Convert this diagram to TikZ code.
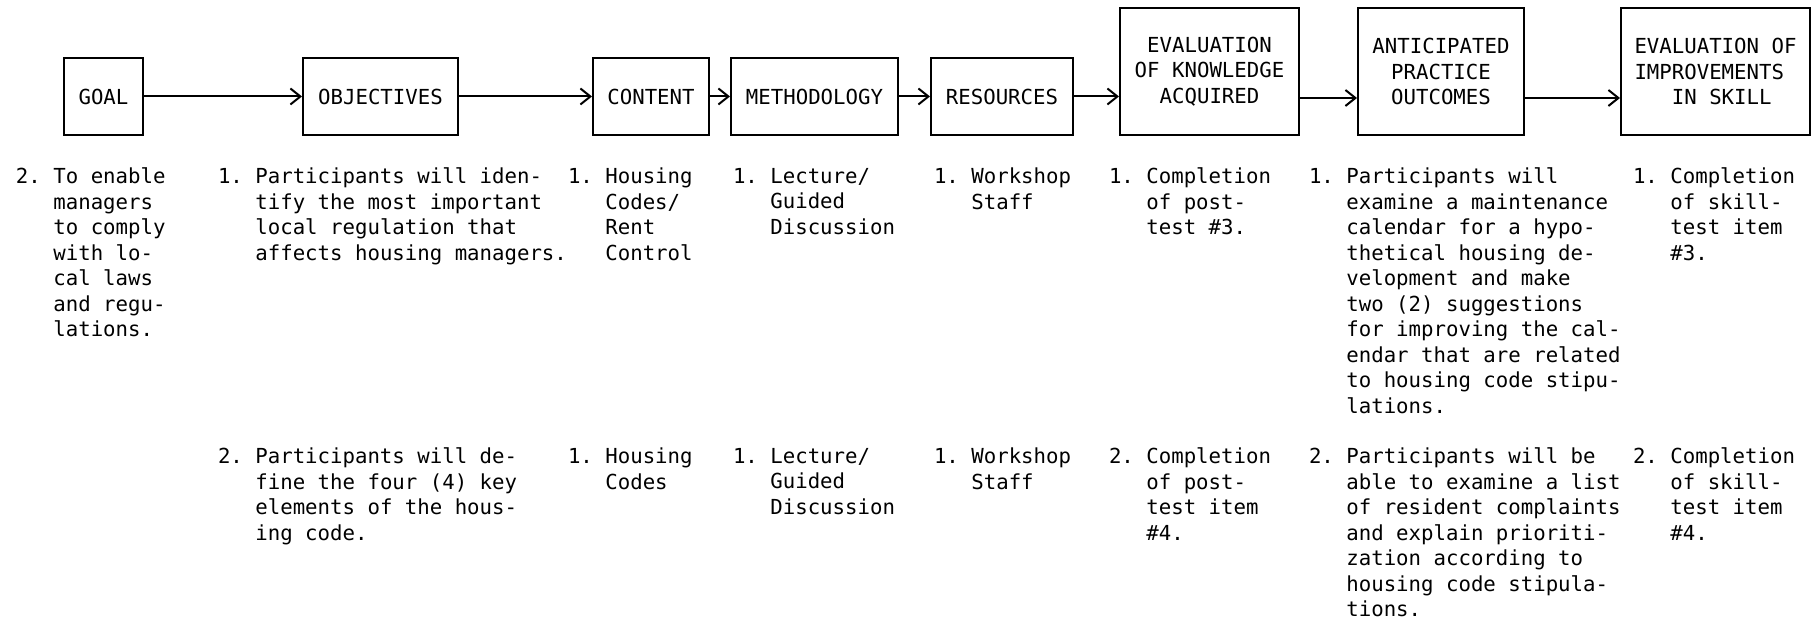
\documentclass[tikz,border=0pt]{standalone}
\usepackage{fontspec}
\usepackage{tikz}
\usetikzlibrary{arrows.meta}
\newfontfamily\typefont{DejaVu Sans Mono}
\newcommand{\ind}{\phantom{1. }}

\begin{document}
\begin{tikzpicture}[x=0.5pt,y=-0.5pt,line width=1pt,
    >={Straight Barb[length=5pt,width=8pt]},
    font=\typefont\fontsize{10.35}{12.75}\selectfont\frenchspacing,
    box/.style={draw,anchor=south west,inner sep=0pt,minimum height=38.5pt,align=center},
    tallbox/.style={box,minimum height=63.5pt},
    entry/.style={anchor=north west,inner sep=0pt,align=left}]
  \useasboundingbox (0,0) rectangle (1812,619);
  % boxes along the top
  \node[box,minimum width=39.5pt](goal) at (63,136){GOAL};
  \node[box,minimum width=77.5pt](obj) at (302,136){OBJECTIVES};
  \node[box,minimum width=58pt](content) at (592,136){CONTENT};
  \node[box,minimum width=83.5pt](method) at (730,136){METHODOLOGY};
  \node[box,minimum width=71pt](res) at (930,136){RESOURCES};
  \node[tallbox,minimum width=89.5pt](evk) at (1119,136){EVALUATION\\OF KNOWLEDGE\\ACQUIRED};
  \node[tallbox,minimum width=83pt](ant) at (1357,136){ANTICIPATED\\PRACTICE\\OUTCOMES};
  \node[tallbox,minimum width=94.5pt,align=left](evi) at (1620,136){EVALUATION OF\\IMPROVEMENTS\\\phantom{III}IN SKILL};
  \coordinate (lvl) at (0,98);
  \draw[->] (goal) -- (obj);
  \draw[->] (obj) -- (content);
  \draw[->] (content) -- (method);
  \draw[->] (method) -- (res);
  \draw[->] (res) -- (res -| evk.west);
  \draw[->] (evk.east |- lvl) -- (ant.west |- lvl);
  \draw[->] (ant.east |- lvl) -- (evi.west |- lvl);
  % first row of entries
  \node[entry](goal1) at (15,167){2. To enable\\\ind managers\\\ind to comply\\\ind with lo-\\\ind cal laws\\\ind and regu-\\\ind lations.};
  \node[entry](obj1) at (217,167){1. Participants will iden-\\\ind tify the most important\\\ind local regulation that\\\ind affects housing managers.};
  \node[entry](content1) at (567,167){1. Housing\\\ind Codes/\\\ind Rent\\\ind Control};
  \node[entry](method1) at (732,167){1. Lecture/\\\ind Guided\\\ind Discussion};
  \node[entry](res1) at (933,167){1. Workshop\\\ind Staff};
  \node[entry](evk1) at (1108,167){1. Completion\\\ind of post-\\\ind test \#3.};
  \node[entry](ant1) at (1308,167){1. Participants will\\\ind examine a maintenance\\\ind calendar for a hypo-\\\ind thetical housing de-\\\ind velopment and make\\\ind two (2) suggestions\\\ind for improving the cal-\\\ind endar that are related\\\ind to housing code stipu-\\\ind lations.};
  \node[entry](evi1) at (1632,167){1. Completion\\\ind of skill-\\\ind test item\\\ind \#3.};
  % second row of entries
  \node[entry](obj2) at (217,447){2. Participants will de-\\\ind fine the four (4) key\\\ind elements of the hous-\\\ind ing code.};
  \node[entry](content2) at (567,447){1. Housing\\\ind Codes};
  \node[entry](method2) at (732,447){1. Lecture/\\\ind Guided\\\ind Discussion};
  \node[entry](res2) at (933,447){1. Workshop\\\ind Staff};
  \node[entry](evk2) at (1108,447){2. Completion\\\ind of post-\\\ind test item\\\ind \#4.};
  \node[entry](ant2) at (1308,447){2. Participants will be\\\ind able to examine a list\\\ind of resident complaints\\\ind and explain prioriti-\\\ind zation according to\\\ind housing code stipula-\\\ind tions.};
  \node[entry](evi2) at (1632,447){2. Completion\\\ind of skill-\\\ind test item\\\ind \#4.};
\end{tikzpicture}
\end{document}
